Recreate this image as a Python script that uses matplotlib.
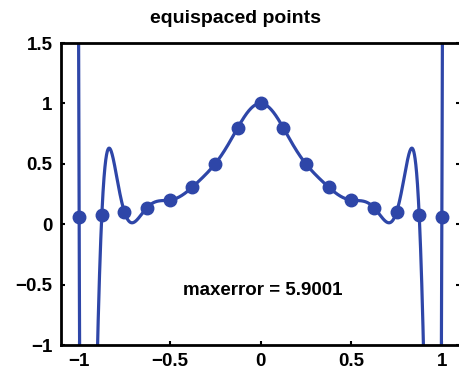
import numpy as np
import matplotlib
matplotlib.use("Agg")
import matplotlib.pyplot as plt

x_pts = [-1.0, -0.875, -0.75, -0.625, -0.5, -0.375, -0.25, -0.125, 0.0,
         0.125, 0.25, 0.375, 0.5, 0.625, 0.75, 0.875, 1.0]
y_pts = [0.058824, 0.075472, 0.1, 0.137931, 0.2, 0.307692, 0.5, 0.8, 1.0,
         0.8, 0.5, 0.307692, 0.2, 0.137931, 0.1, 0.075472, 0.058824]
x_ticks = [-1, -0.5, 0, 0.5, 1]
y_ticks = [-1, -0.5, 0, 0.5, 1, 1.5]
title_text = "equispaced points"
note_text = "maxerror = 5.9001"

plt.rcParams['font.family'] = ['Liberation Sans', 'DejaVu Sans']
plt.rcParams['font.weight'] = 'bold'

color = "#2e46a8"

fig = plt.figure(figsize=(4.59, 3.77), dpi=100)
ax = fig.add_axes([61/459, 32/377, 399/459, 302/377])

# polynomial interpolant through the sample points (drawn slightly past the ends)
p = np.polynomial.Polynomial.fit(x_pts, y_pts, len(x_pts) - 1)
xx = np.linspace(-1.01, 1.01, 6001)
ax.plot(xx, p(xx), color=color, lw=2.3)
ax.plot(x_pts, y_pts, 'o', color=color, ms=9.0)

ax.set_xlim(-1.1, 1.1)
ax.set_ylim(-1, 1.5)
ax.set_xticks(x_ticks)
ax.set_yticks(y_ticks)
ax.set_xticklabels([("\u2212" if t < 0 else "") + f"{abs(t):g}" for t in x_ticks])
ax.set_yticklabels([("\u2212" if t < 0 else "") + f"{abs(t):g}" for t in y_ticks])
ax.tick_params(direction='in', length=3, width=1.5, labelsize=13.5, pad=6,
               right=True, top=False)
for s in ax.spines.values():
    s.set_linewidth(2)

ax.text(-0.425, -0.59, note_text, ha='left', va='baseline', fontsize=13.5,
        fontweight='bold')
fig.text(236/459, 1 - 23/377, title_text, ha='center', va='baseline',
         fontsize=14, fontweight='bold')

fig.savefig("out.png", dpi=100)
